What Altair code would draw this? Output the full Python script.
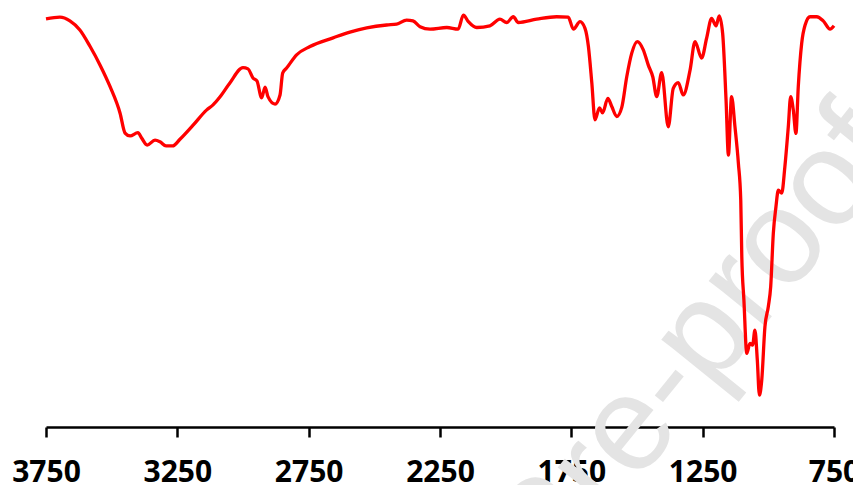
import altair as alt
import pandas as pd

# Wavenumber (cm-1) and transmittance (arbitrary %)
wavenumber = [3750, 3697, 3659, 3621, 3582, 3544, 3506, 3468, 3449, 3430, 3400, 3386, 3365, 3335,
              3316, 3293, 3268, 3240, 3190, 3138, 3114, 3088, 3050, 3000, 2981, 2962, 2947, 2929,
              2916, 2905, 2878, 2859, 2849, 2834, 2796, 2745, 2657, 2593, 2529, 2453, 2415, 2377,
              2353, 2326, 2288, 2224, 2181, 2161, 2142, 2110, 2060, 2022, 1996, 1971, 1952, 1882,
              1806, 1762, 1742, 1717, 1698, 1685, 1672, 1660, 1643, 1631, 1611, 1596, 1577, 1558,
              1539, 1520, 1499, 1476, 1457, 1440, 1425, 1406, 1381, 1362, 1343, 1324, 1298, 1279,
              1254, 1235, 1216, 1199, 1187, 1174, 1161, 1152, 1140, 1127, 1114, 1105, 1101, 1093,
              1082, 1070, 1060, 1051, 1042, 1034, 1025, 1013, 1000, 991, 981, 971, 962, 949, 937,
              924, 915, 905, 895, 886, 873, 860, 841, 816, 791, 765, 750]
transmittance = [98.6, 99.0, 98.1, 95.9, 91.9, 87.4, 82.2, 75.8, 71.0, 70.3, 71.1, 69.8, 68.1, 69.3,
                 68.9, 67.9, 67.9, 69.5, 72.9, 76.6, 77.8, 79.7, 83.1, 86.8, 86.5, 84.3, 83.6, 79.5,
                 82.1, 79.8, 78.0, 80.2, 85.5, 86.7, 89.9, 91.9, 94.0, 95.4, 96.4, 97.1, 97.3, 98.3,
                 98.1, 96.7, 96.1, 96.5, 96.1, 99.5, 97.9, 96.5, 96.9, 98.5, 97.7, 99.1, 97.7, 98.5,
                 99.1, 99.0, 96.1, 97.9, 96.3, 91.9, 83.1, 74.2, 77.1, 75.9, 79.4, 77.4, 75.0, 77.2,
                 84.6, 90.3, 93.1, 91.1, 87.4, 84.6, 79.8, 85.6, 72.5, 81.8, 83.2, 80.2, 86.2, 93.1,
                 89.1, 93.9, 98.7, 96.9, 99.3, 95.1, 79.0, 65.7, 79.8, 72.5, 63.7, 54.8, 41.1, 30.7,
                 17.8, 20.2, 19.8, 23.4, 16.2, 7.7, 11.4, 24.2, 29.1, 33.9, 46.8, 53.2, 57.2, 56.5, 62.9,
                 72.5, 79.8, 76.6, 70.9, 82.2, 92.7, 97.1, 99.1, 99.1, 98.1, 96.1, 96.9]
tick_values = [3750, 3250, 2750, 2250, 1750, 1250, 750]
watermark = ["Journal Pre-proof"]

df = pd.DataFrame({"wn": wavenumber, "t": transmittance})

x_scale = alt.Scale(domain=[3750, 750], nice=False, zero=False)
y_scale = alt.Scale(domain=[0, 100], nice=False, zero=False)

wm = alt.Chart(pd.DataFrame({"label": watermark})).mark_text(
    font="Liberation Sans", fontSize=135, color="#e4e4e4", angle=309,
    align="right", baseline="alphabetic"
).encode(text="label:N", x=alt.value(859), y=alt.value(139))

line = alt.Chart(df).mark_line(
    color="#ff0000", strokeWidth=3.3, interpolate="monotone"
).encode(
    x=alt.X("wn:Q", scale=x_scale,
            axis=alt.Axis(values=tick_values, title=None, grid=False, labelFlush=False,
                          labelOverlap=False, tickSize=10, tickWidth=2.5, tickColor="black",
                          domainColor="black", domainWidth=2.5, labelPadding=20,
                          labelFont="Open Sans", labelFontSize=30, labelFontWeight="bold",
                          labelColor="black", format="d")),
    y=alt.Y("t:Q", scale=y_scale, axis=None),
    order=alt.Order("wn:Q", sort="descending"),
)

chart = alt.layer(wm, line).properties(
    width=788, height=414,
    autosize=alt.AutoSizeParams(type="none"),
    padding={"left": 38, "top": 5, "right": 19, "bottom": 70},
).configure_view(stroke=None)

chart.save("out.html", embed_options={"renderer": "svg", "actions": False})
